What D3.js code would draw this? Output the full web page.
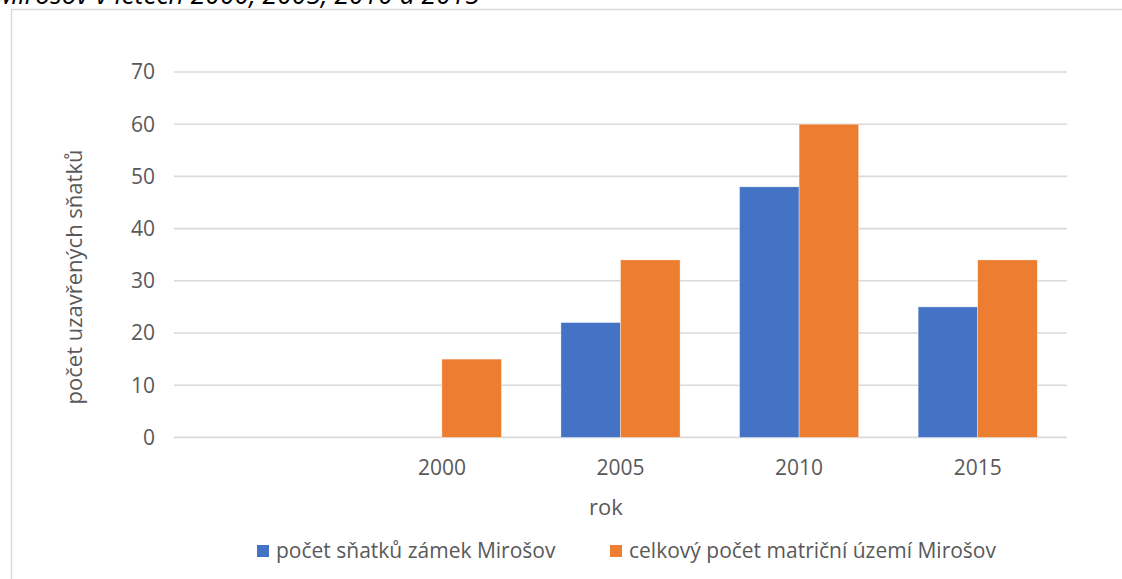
<!DOCTYPE html>
<html><head><meta charset="utf-8">
<script src="https://cdn.jsdelivr.net/npm/d3@7"></script>
<style>body{margin:0;background:#fff}svg{display:block}text{font-family:"Open Sans",Lato,sans-serif}</style>
</head><body>
<svg id="chart" width="1122" height="579"></svg>
<script>
const categories = ["", "2000", "2005", "2010", "2015"];
const seriesNames = ["počet sňatků zámek Mirošov", "celkový počet matriční území Mirošov"];
const castle = [null, 0, 22, 48, 25];
const total = [null, 15, 34, 60, 34];
const yTicks = [0, 10, 20, 30, 40, 50, 60, 70];
const colors = ["#4472c4", "#ed7d31"];
const titleText = "Mirošov v letech 2000, 2005, 2010 a 2015";

const svg = d3.select("#chart");
const W = 1122, H = 579;
svg.append("rect").attr("width", W).attr("height", H).attr("fill", "#fff");

// cut-off caption above the chart frame
svg.append("text").attr("x", -4).attr("y", 4)
  .attr("font-family", "'Liberation Serif', serif").attr("font-style", "italic")
  .attr("font-size", 26.5).attr("fill", "#000").text(titleText);

// chart frame (left and top edges visible)
svg.append("path").attr("d", `M11.5,${H} V9.5 H${W}`).attr("fill", "none")
  .attr("stroke", "#d9d9d9").attr("stroke-width", 1.5);

const x0 = d3.scaleBand().domain(categories.map((c, i) => i)).range([174, 1067])
  .paddingInner(0.333).paddingOuter(0.1665);
const x1 = d3.scaleBand().domain([0, 1]).range([0, x0.bandwidth()]);
const y = d3.scaleLinear().domain([0, 70]).range([437.4, 72]);

const tc = "#595959";
const fs = 21;

// gridlines
svg.append("g").selectAll("line").data(yTicks).join("line")
  .attr("x1", 174).attr("x2", 1067)
  .attr("y1", d => y(d)).attr("y2", d => y(d))
  .attr("stroke", "#d9d9d9").attr("stroke-width", 1.6);

// y tick labels
svg.append("g").selectAll("text").data(yTicks).join("text")
  .attr("x", 155).attr("y", d => y(d)).attr("dy", "0.35em")
  .attr("text-anchor", "end").attr("font-size", fs).attr("fill", tc).text(d => d);

// bars
const series = [castle, total];
series.forEach((vals, si) => {
  svg.append("g").selectAll("rect").data(vals.map((v, i) => ({v, i})).filter(d => d.v))
    .join("rect")
    .attr("x", d => x0(d.i) + x1(si))
    .attr("width", x1.bandwidth())
    .attr("y", d => y(d.v))
    .attr("height", d => y(0) - y(d.v))
    .attr("fill", colors[si])
    .attr("stroke", "#fff").attr("stroke-width", 0.6).attr("stroke-opacity", 0.6);
});

// x tick labels
svg.append("g").selectAll("text").data(categories).join("text")
  .attr("x", (d, i) => x0(i) + x0.bandwidth() / 2).attr("y", 468).attr("dy", "0.35em")
  .attr("text-anchor", "middle").attr("font-size", fs).attr("fill", tc).text(d => d);

// axis titles
svg.append("text").attr("x", 606).attr("y", 507).attr("dy", "0.35em")
  .attr("text-anchor", "middle").attr("font-size", 22).attr("fill", tc).text("rok");
svg.append("text").attr("transform", "translate(74,277) rotate(-90)").attr("dy", "0.35em")
  .attr("text-anchor", "middle").attr("font-size", 22).attr("fill", tc).text("počet uzavřených sňatků");

// legend
const legX = [257, 610];
const lg = svg.append("g").selectAll("g").data(seriesNames).join("g")
  .attr("transform", (d, i) => `translate(${legX[i]},551)`);
lg.append("rect").attr("x", 0).attr("y", -6).attr("width", 12).attr("height", 12)
  .attr("fill", (d, i) => colors[i]);
lg.append("text").attr("x", 19).attr("y", 0).attr("dy", "0.35em")
  .attr("font-size", fs).attr("fill", tc).text(d => d);
</script>
</body></html>
